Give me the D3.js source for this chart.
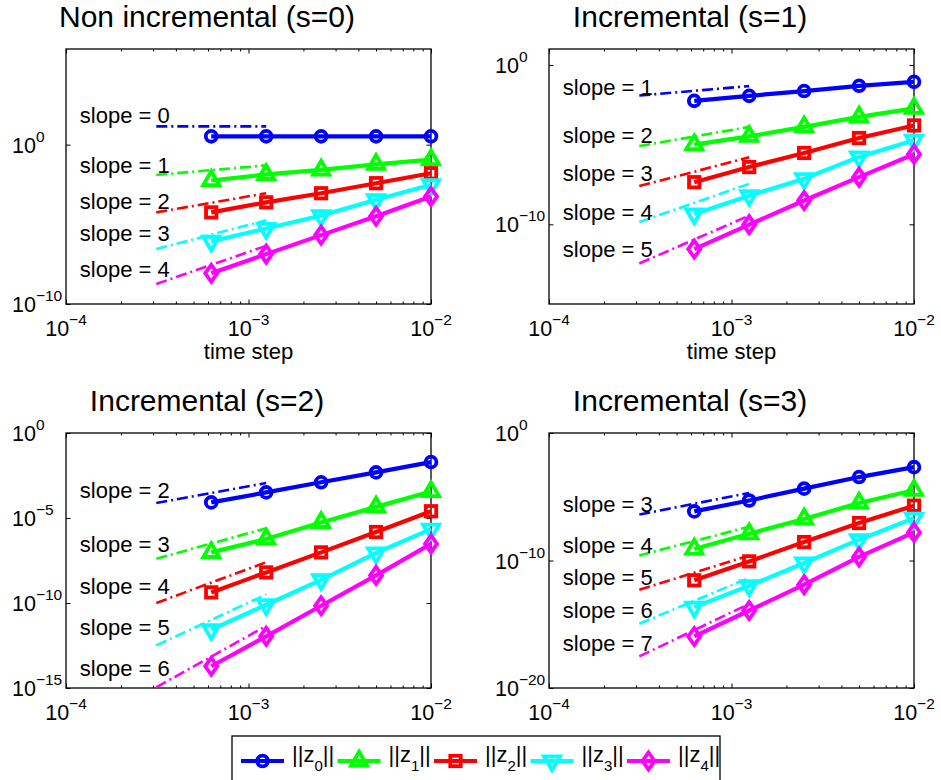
<!DOCTYPE html>
<html lang="en">
<head>
	<meta charset="UTF-8"/>
	<title>Time step convergence</title>
	<script src="https://d3js.org/d3.v7.min.js"></script>
	<style>
		body { margin: 0; background: #fff; }
		svg text { font-family: "Liberation Sans", Arial, Helvetica, sans-serif; fill: #000; }
	</style>
</head>
<body>
	<div id="chart-container"></div>

	<script>
	var w = 941;
	var h = 780;

	// shared x values
	var timeSteps = [0.000625, 0.00125, 0.0025, 0.005, 0.01];
	var refSteps = [0.0003125, 0.00125];
	var labelStep = 1.19e-4;
	var xTicks = [1e-4, 1e-3, 1e-2];

	var seriesIdx = ["0", "1", "2", "3", "4"];
	var colors = ["#0000ff", "#00ff00", "#ff0000", "#00ffff", "#ff00ff"];
	var markers = ["circle", "up", "square", "down", "diamond"];

	var titles = ["Non incremental (s=0)", "Incremental (s=1)", "Incremental (s=2)", "Incremental (s=3)"];

	// s = 0
	var errS0 = [
		[3.3, 3.3, 3.3, 3.3, 3.3],
		[5.6e-3, 1.35e-2, 2.6e-2, 5.8e-2, 1.14e-1],
		[5.6e-5, 2.4e-4, 8.9e-4, 3.8e-3, 1.6e-2],
		[8.5e-7, 5.5e-6, 3.5e-5, 3.5e-4, 3.0e-3],
		[8.5e-9, 1.35e-7, 2.1e-6, 3.2e-5, 5.5e-4]
	];
	var refS0 = [[14, 14], [1.26e-2, 5.0e-2], [5.6e-5, 8.9e-4], [2.8e-7, 1.8e-5], [1.8e-9, 4.5e-7]];
	var labelS0 = [23, 1.6e-2, 9.3e-5, 8.5e-7, 4.6e-9];
	var slopesS0 = [0, 1, 2, 3, 4];

	// s = 1
	var errS1 = [
		[5.6e-3, 1.15e-2, 2.3e-2, 4.9e-2, 8.7e-2],
		[1.0e-5, 3.3e-5, 1.3e-4, 5.5e-4, 1.9e-3],
		[4.4e-8, 3.9e-7, 3.0e-6, 2.6e-5, 1.6e-4],
		[4.5e-10, 6.3e-9, 7.2e-8, 1.7e-6, 1.9e-5],
		[2.8e-12, 9.5e-11, 3.1e-9, 9.1e-8, 2.5e-6]
	];
	var refS1 = [[1.2e-2, 4.7e-2], [8.1e-6, 1.3e-4], [2.5e-8, 1.6e-6], [1.4e-10, 3.5e-8], [3.5e-13, 3.5e-10]];
	var labelS1 = [1.26e-2, 1.26e-5, 5.6e-8, 1.9e-10, 8.3e-13];
	var slopesS1 = [1, 2, 3, 4, 5];

	// s = 2
	var errS2 = [
		[8.3e-5, 3.2e-4, 1.26e-3, 4.8e-3, 1.95e-2],
		[9.5e-8, 5.8e-7, 5.5e-6, 4.5e-5, 3.6e-4],
		[4.2e-10, 6.3e-9, 9.5e-8, 1.5e-6, 2.5e-5],
		[2.7e-12, 7.9e-11, 2.3e-9, 8.7e-8, 2.2e-6],
		[1.9e-14, 1.1e-12, 6.9e-11, 4.2e-9, 3.0e-7]
	];
	var refS2 = [[7.6e-5, 1.15e-3], [4.0e-8, 2.5e-6], [1.0e-10, 2.5e-8], [3.2e-13, 3.2e-10], [1.1e-15, 4.5e-12]];
	var labelS2 = [1.5e-4, 9.5e-8, 3.5e-10, 1.26e-12, 4.8e-15];
	var slopesS2 = [2, 3, 4, 5, 6];

	// s = 3
	var errS3 = [
		[7.1e-7, 5.1e-6, 4.3e-5, 3.5e-4, 2.1e-3],
		[7.9e-10, 1.26e-8, 1.8e-7, 3.2e-6, 3.2e-5],
		[2.8e-12, 8.5e-11, 2.8e-9, 8.7e-8, 2.0e-6],
		[2.2e-14, 1.05e-12, 6.3e-11, 4.3e-9, 2.1e-7],
		[1.1e-16, 1.2e-14, 1.26e-12, 1.9e-10, 1.6e-8]
	];
	var refS3 = [[4.0e-7, 2.0e-5], [2.5e-10, 4.5e-8], [5.0e-13, 2.5e-10], [1.1e-15, 4.3e-12], [3.0e-18, 4.0e-14]];
	var labelS3 = [6.0e-7, 3.9e-10, 1.26e-12, 3.1e-15, 7.4e-18];
	var slopesS3 = [3, 4, 5, 6, 7];

	var yDomains = [[1e-10, 1e6], [1e-15, 1e1], [1e-15, 1e0], [1e-20, 1e0]];
	var yTicks = [[1e-10, 1e0], [1e-10, 1e0], [1e-15, 1e-10, 1e-5, 1e0], [1e-20, 1e-10, 1e0]];

	var panels = [
		{ err: errS0, ref: refS0, lab: labelS0, slopes: slopesS0, left: 66, top: 49, xlabel: true },
		{ err: errS1, ref: refS1, lab: labelS1, slopes: slopesS1, left: 549, top: 49, xlabel: true },
		{ err: errS2, ref: refS2, lab: labelS2, slopes: slopesS2, left: 66, top: 433, xlabel: false },
		{ err: errS3, ref: refS3, lab: labelS3, slopes: slopesS3, left: 549, top: 433, xlabel: false }
	];
	var pw = 365, ph = 255;

	var svg = d3.select("#chart-container")
		.append("svg")
		.attr("width", w)
		.attr("height", h);

	function expText(sel, v, size, supSize) {
		var e = Math.round(Math.log10(v));
		sel.append("tspan").attr("font-size", size).text("10");
		sel.append("tspan")
			.attr("font-size", supSize)
			.attr("dy", -11)
			.text(e === 0 ? "0" : "\u2212" + (-e));
	}

	function drawMarker(g, type, x, y, color) {
		var m;
		if (type === "circle") {
			m = g.append("circle").attr("cx", x).attr("cy", y).attr("r", 5.4);
		} else if (type === "square") {
			m = g.append("rect").attr("x", x - 5.2).attr("y", y - 5.2).attr("width", 10.4).attr("height", 10.4);
		} else if (type === "up") {
			m = g.append("path").attr("d", "M" + x + "," + (y - 9.2) + "L" + (x + 8) + "," + (y + 4.6) + "L" + (x - 8) + "," + (y + 4.6) + "Z");
		} else if (type === "down") {
			m = g.append("path").attr("d", "M" + x + "," + (y + 9.2) + "L" + (x + 8) + "," + (y - 4.6) + "L" + (x - 8) + "," + (y - 4.6) + "Z");
		} else {
			m = g.append("path").attr("d", "M" + x + "," + (y - 8.5) + "L" + (x + 6) + "," + y + "L" + x + "," + (y + 8.5) + "L" + (x - 6) + "," + y + "Z");
		}
		m.attr("fill", "none").attr("stroke", color).attr("stroke-width", 3.8).attr("stroke-linejoin", "miter");
	}

	var minorTicks = [];
	[1e-4, 1e-3].forEach(function (d) {
		for (var k = 2; k <= 9; k++) minorTicks.push(k * d);
	});

	panels.forEach(function (p, pi) {
		var g = svg.append("g").attr("transform", "translate(" + p.left + "," + p.top + ")");

		var xScale = d3.scaleLog().domain([1e-4, 1e-2]).range([0, pw]);
		var yScale = d3.scaleLog().domain(yDomains[pi]).range([ph, 0]);

		// ticks (inward, all four sides)
		var axes = [
			[d3.axisBottom(xScale), "translate(0," + ph + ")"],
			[d3.axisTop(xScale), "translate(0,0)"]
		];
		axes.forEach(function (a) {
			g.append("g").attr("transform", a[1])
				.call(a[0].tickValues(xTicks).tickSize(-4.5).tickSizeOuter(0).tickFormat(""));
			g.append("g").attr("transform", a[1])
				.call(a[0].tickValues(minorTicks).tickSize(-2.5).tickSizeOuter(0).tickFormat(""));
		});
		g.append("g").call(d3.axisLeft(yScale).tickValues(yTicks[pi]).tickSize(-4.5).tickSizeOuter(0).tickFormat(""));
		g.append("g").attr("transform", "translate(" + pw + ",0)")
			.call(d3.axisRight(yScale).tickValues(yTicks[pi]).tickSize(-4.5).tickSizeOuter(0).tickFormat(""));
		g.selectAll(".domain").remove();
		g.selectAll(".tick line").attr("stroke", "#000").attr("stroke-width", 1);

		g.append("rect")
			.attr("width", pw).attr("height", ph)
			.attr("fill", "none").attr("stroke", "#000").attr("stroke-width", 1.3);

		// tick labels
		xTicks.forEach(function (v) {
			var t = g.append("text")
				.attr("x", xScale(v))
				.attr("y", ph + 32)
				.attr("text-anchor", "middle");
			expText(t, v, 21.5, 15.5);
		});
		yTicks[pi].forEach(function (v) {
			var t = g.append("text")
				.attr("x", -54)
				.attr("y", yScale(v) + 8);
			expText(t, v, 21.5, 15.5);
		});

		if (p.xlabel) {
			g.append("text")
				.attr("x", pw / 2)
				.attr("y", ph + 55)
				.attr("text-anchor", "middle")
				.attr("font-size", 22)
				.text("time step");
		}

		g.append("text")
			.attr("x", 141)
			.attr("y", -22)
			.attr("text-anchor", "middle")
			.attr("font-size", 30)
			.text(titles[pi]);

		var line = d3.line()
			.x(function (d) { return xScale(d[0]); })
			.y(function (d) { return yScale(d[1]); });

		// error curves
		p.err.forEach(function (vals, si) {
			var pts = timeSteps.map(function (t, i) { return [t, vals[i]]; });
			g.append("path")
				.attr("d", line(pts))
				.attr("fill", "none")
				.attr("stroke", colors[si])
				.attr("stroke-width", 4.2);
			pts.forEach(function (d) {
				drawMarker(g, markers[si], xScale(d[0]), yScale(d[1]), colors[si]);
			});
		});

		// reference slopes
		p.ref.forEach(function (vals, si) {
			var pts = refSteps.map(function (t, i) { return [t, vals[i]]; });
			g.append("path")
				.attr("d", line(pts))
				.attr("fill", "none")
				.attr("stroke", colors[si])
				.attr("stroke-width", 2.6)
				.attr("stroke-dasharray", "11,4,2,4");
		});

		p.lab.forEach(function (v, si) {
			g.append("text")
				.attr("x", xScale(labelStep))
				.attr("y", yScale(v))
				.attr("font-size", 22)
				.text("slope = " + p.slopes[si]);
		});
	});

	// legend
	var legend = svg.append("g").attr("transform", "translate(232,736)");
	legend.append("rect")
		.attr("width", 488).attr("height", 60)
		.attr("fill", "#fff").attr("stroke", "#000").attr("stroke-width", 1.3);

	seriesIdx.forEach(function (s, i) {
		var x0 = 9 + i * 96.5;
		legend.append("line")
			.attr("x1", x0).attr("x2", x0 + 43)
			.attr("y1", 25).attr("y2", 25)
			.attr("stroke", colors[i]).attr("stroke-width", 4.2);
		drawMarker(legend, markers[i], x0 + 21.5, 25, colors[i]);
		var t = legend.append("text")
			.attr("x", x0 + 51)
			.attr("y", 26)
			.attr("font-size", 22);
		t.append("tspan").text("||z");
		t.append("tspan").attr("font-size", 15).attr("dy", 9).text(s);
		t.append("tspan").attr("dy", -9).text("||");
	});
	</script>
</body>
</html>
